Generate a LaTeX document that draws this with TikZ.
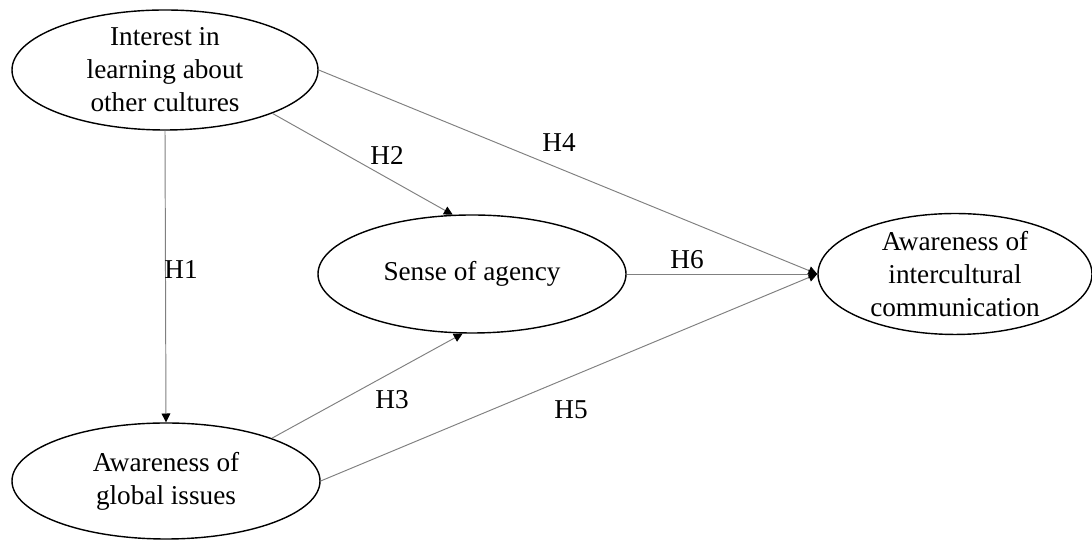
\documentclass[tikz,border=0pt]{standalone}
\usepackage{fontspec}
\setmainfont{Liberation Serif}
\usepackage{tikz}
\usetikzlibrary{positioning, shapes.geometric, arrows.meta}

\begin{document}
\begin{tikzpicture}[>={Triangle[black, length=5pt, width=5pt]},
  construct/.style={ellipse, draw, thick, inner sep=0pt, align=center,
    font=\fontsize{15.5pt}{18.8pt}\selectfont},
  path/.style={->, gray, line width=0.55pt},
  hyp/.style={font=\fontsize{15.5pt}{18.8pt}\selectfont}]
  % Page size
  \useasboundingbox (0,0) rectangle (21.84,10.8);

  % Constructs
  \node[construct, minimum width=6.12cm, minimum height=2.40cm] (interest) at (3.30, 9.40)
    {Interest in\\learning about\\other cultures};
  \node[construct, minimum width=6.16cm, minimum height=2.32cm] (global) at (3.32, 1.18)
    {Awareness of\\global issues};
  \node[construct, minimum width=6.16cm, minimum height=2.36cm] (agency) at (9.44, 5.32)
    {Sense of agency};
  \node[construct, minimum width=5.48cm, minimum height=2.40cm] (intercult) at (19.10, 5.32)
    {Awareness of\\intercultural\\communication};

  % Hypothesised paths
  \draw[path] (interest.south) -- (global.north);
  \draw[path] (interest.-22) -- (agency.108);
  \draw[path] (global.22.5) -- (agency.-99.5);
  \draw[path] (interest.east) -- (intercult.west);
  \draw[path] (global.east) -- (intercult.west);
  \draw[path] (agency.east) -- (intercult.west);

  % Path labels
  \node[hyp] (h1) at (3.62, 5.40) {H1};
  \node[hyp] (h2) at (7.74, 7.70) {H2};
  \node[hyp] (h3) at (7.84, 2.80) {H3};
  \node[hyp] (h4) at (11.18, 7.94) {H4};
  \node[hyp] (h5) at (11.42, 2.60) {H5};
  \node[hyp] (h6) at (13.74, 5.60) {H6};

\end{tikzpicture}
\end{document}
